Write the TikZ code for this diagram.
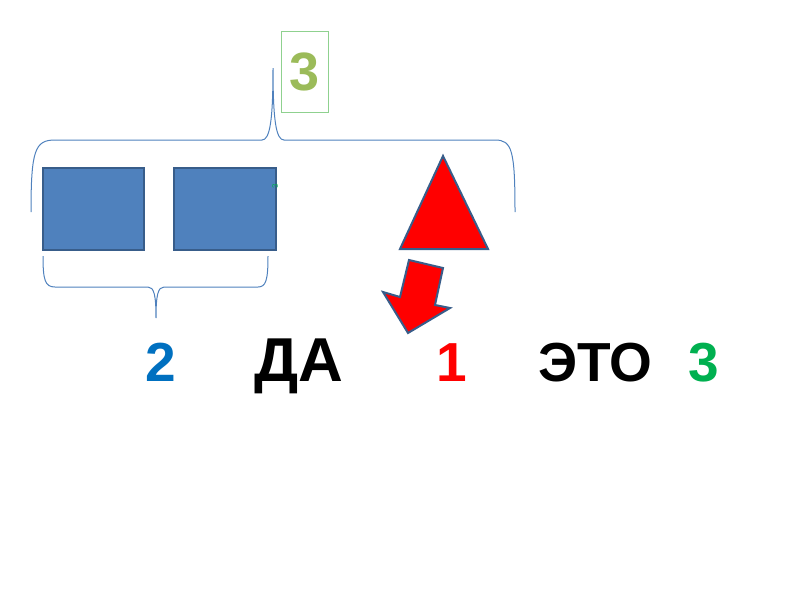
\documentclass[tikz,border=0pt]{standalone}
\usepackage{fontspec}
\setmainfont{Liberation Sans}
\definecolor{shapeblue}{HTML}{4F81BD}
\definecolor{edgeblue}{HTML}{385D8A}
\definecolor{olivegreen}{HTML}{9BBB59}
\definecolor{boxgreen}{HTML}{8FD18F}
\definecolor{numblue}{HTML}{0070C0}
\definecolor{numgreen}{HTML}{00B050}
\tikzset{
  bracestyle/.style={draw=shapeblue, line width=1pt},
  bluebox/.style={fill=shapeblue, draw=edgeblue, line width=2pt},
  redshape/.style={fill=red, draw=edgeblue, line width=2pt, line join=miter},
  bigtext/.style={font=\bfseries\fontsize{55}{66}\selectfont, anchor=base west, inner sep=0pt}
}
\begin{document}
\begin{tikzpicture}[x=1pt,y=-1pt]
\useasboundingbox (0,0) rectangle (800,600);
% top label box
\node[draw=boxgreen, line width=1pt, minimum width=47pt, minimum height=81pt, inner sep=0pt,
      text=olivegreen, font=\bfseries\fontsize{54}{60}\selectfont] (top3) at (304.5,71.5) {3};
% top brace
\draw[bracestyle] (31,212) .. controls (31,150) and (35,140) .. (55,140) -- (262,140)
  .. controls (270,140) and (273,120) .. (273,68)
  .. controls (273,120) and (276,140) .. (284,140) -- (495,140)
  .. controls (512,140) and (515,150) .. (515,212);
% rectangles
\draw[bluebox] (43,168) rectangle (144,250);
\draw[bluebox] (174,168) rectangle (276,250);
\node[text=numgreen, font=\fontsize{8}{9}\selectfont, rotate=90, inner sep=0pt] (tiny3) at (275,186) {3};
% bottom brace
\draw[bracestyle] (43,256) .. controls (43,280) and (45,287) .. (55,287) -- (148,287)
  .. controls (154,287) and (156,295) .. (156,318)
  .. controls (156,295) and (158,287) .. (164,287) -- (258,287)
  .. controls (266,287) and (268,280) .. (268,256);
% triangle
\draw[redshape] (443,156) -- (488,249) -- (400,249) -- cycle;
% block arrow
\draw[redshape] (409,260) -- (443,268) -- (435,305) -- (450,308) -- (408,333) -- (383,292) -- (400,297) -- cycle;
% bottom texts
\node[bigtext, text=numblue] (two) at (145,381) {2};
\node[bigtext, font=\bfseries\fontsize{62}{70}\selectfont] (da) at (254,381) {ДА};
\node[bigtext, text=red] (one) at (436,381) {1};
\node[bigtext] (eto) at (538,381) {ЭТО};
\node[bigtext, text=numgreen] (three) at (688,381) {3};
\end{tikzpicture}
\end{document}
